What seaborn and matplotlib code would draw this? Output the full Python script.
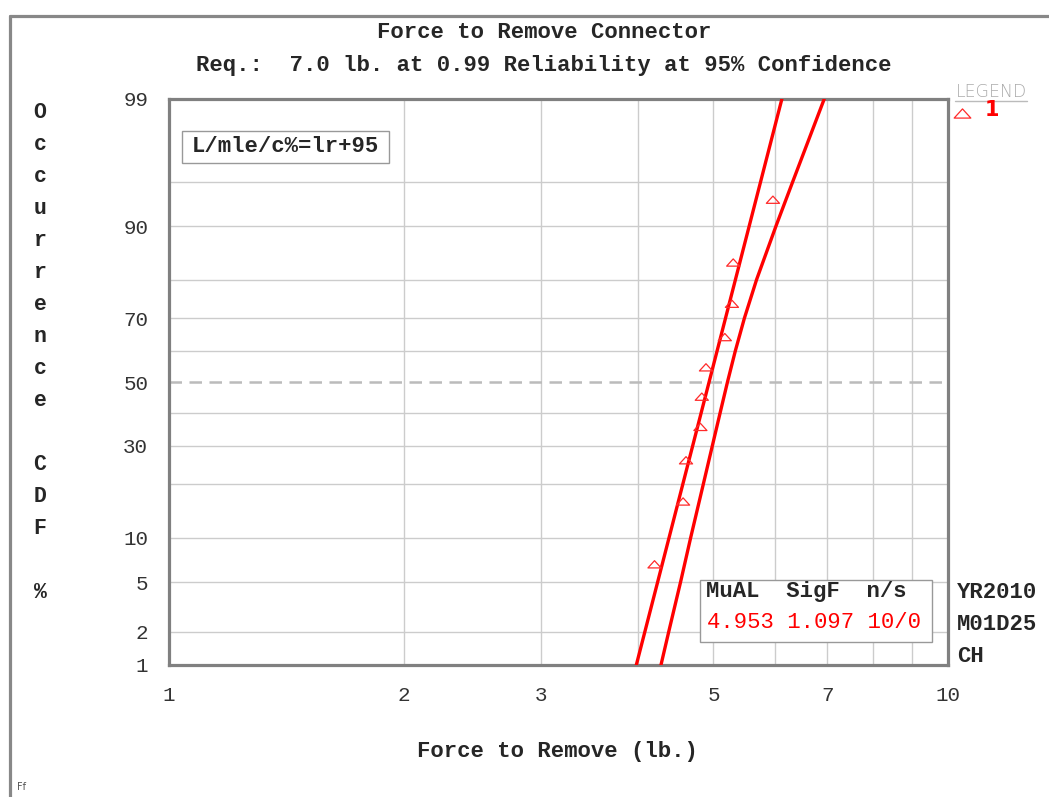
import numpy as np
import pandas as pd
import matplotlib
matplotlib.use('Agg')
import matplotlib.pyplot as plt
from matplotlib.lines import Line2D
from matplotlib.patches import Rectangle
from matplotlib.path import Path
from matplotlib.markers import MarkerStyle
import seaborn as sns
from statistics import NormalDist

# data
force = [4.20, 4.57, 4.61, 4.81, 4.83, 4.89, 5.17, 5.28, 5.30, 5.96]
rank_pct = [6.7, 16.3, 26.0, 35.6, 45.2, 54.8, 64.4, 74.0, 83.7, 93.3]
fit_pct = [1, 99]
fit_force = [3.98, 6.12]
bound_pct = [1, 2, 5, 10, 20, 30, 40, 50, 60, 70, 80, 90, 95, 99]
bound_force = [4.281, 4.380, 4.536, 4.673, 4.851, 4.983, 5.099, 5.211,
               5.332, 5.478, 5.679, 6.014, 6.318, 6.936]

x_ticks = [1, 2, 3, 4, 5, 6, 7, 8, 9, 10]
x_labels = ['1', '2', '3', '', '5', '', '7', '', '', '10']
y_ticks = [1, 2, 5, 10, 20, 30, 40, 50, 60, 70, 80, 90, 95, 99]
y_labels = ['1', '2', '5', '10', '', '30', '', '50', '', '70', '', '90', '', '99']

W, H = 1049, 797
sns.set_style('white')
plt.rcParams['font.family'] = ['Liberation Mono', 'DejaVu Sans Mono']
mono = 'Liberation Mono'


def px(x, y):
    return x / W, 1 - y / H


# normal probability scale for the CDF axis
nd = NormalDist()
_ppf = np.vectorize(nd.inv_cdf, otypes=[float])
_cdf = np.vectorize(nd.cdf, otypes=[float])


def fwd(p):
    p = np.asarray(p, float) / 100.0
    bad = ~np.isfinite(p)
    p = np.clip(np.where(bad, 0.5, p), 1e-9, 1 - 1e-9)
    z = _ppf(p)
    return np.where(bad, np.nan, z)


def inv(z):
    z = np.asarray(z, float)
    bad = ~np.isfinite(z)
    out = _cdf(np.where(bad, 0.0, z)) * 100
    return np.where(bad, np.nan, out)


fig = plt.figure(figsize=(W / 100, H / 100), dpi=100)
ax = fig.add_axes([169 / W, (797 - 665) / H, 779 / W, 566 / H])
ax.set_xscale('log')
ax.set_yscale('function', functions=(fwd, inv))

pts = pd.DataFrame({'force': force, 'pct': rank_pct})
fit = pd.DataFrame({'force': fit_force, 'pct': fit_pct})
bnd = pd.DataFrame({'force': bound_force, 'pct': bound_pct})

tri = MarkerStyle(Path([(-1, -0.55), (1, -0.55), (0, 0.55), (-1, -0.55)], closed=True))

sns.lineplot(data=fit, x='force', y='pct', sort=False, color='#ff0000', lw=2.4, ax=ax, zorder=4)
sns.lineplot(data=bnd, x='force', y='pct', sort=False, color='#ff0000', lw=2.4, ax=ax, zorder=4)
sns.scatterplot(data=pts, x='force', y='pct', marker=tri, s=90, color='#ff2a2a',
                edgecolor='#ff2a2a', linewidth=0.9, ax=ax, zorder=5)
ax.collections[-1].set_facecolor('none')

ax.set_xlim(1, 10)
ax.set_ylim(1, 99)
ax.xaxis.set_major_locator(matplotlib.ticker.FixedLocator(x_ticks))
ax.xaxis.set_minor_locator(matplotlib.ticker.NullLocator())
ax.set_xticklabels(x_labels)
ax.yaxis.set_major_locator(matplotlib.ticker.FixedLocator(y_ticks))
ax.yaxis.set_minor_locator(matplotlib.ticker.NullLocator())
ax.set_yticklabels(y_labels)
ax.tick_params(axis='both', which='major', length=7, width=1, color='#cccccc',
               labelsize=15, labelcolor='#333333', pad=8)
ax.set_xlabel('')
ax.set_ylabel('')

ax.grid(True, color='#cccccc', lw=1.0)
for gl, v in zip(ax.get_ygridlines(), y_ticks):
    if v == 50:
        gl.set_color('#bbbbbb')
        gl.set_linestyle((0, (5, 3)))
        gl.set_linewidth(1.8)
for sp in ax.spines.values():
    sp.set_visible(True)
    sp.set_color('#808080')
    sp.set_linewidth(2.3)

# titles and axis label
fig.text(*px(544, 33), 'Force to Remove Connector', ha='center', va='center',
         fontsize=16, fontweight='bold', family=mono)
fig.text(*px(544, 65), 'Req.:  7.0 lb. at 0.99 Reliability at 95% Confidence',
         ha='center', va='center', fontsize=16, fontweight='bold', family=mono)
fig.text(*px(557, 751), 'Force to Remove (lb.)', ha='center', va='center',
         fontsize=16, fontweight='bold', family=mono)

for i, ch in enumerate('Occurrence CDF %'):
    if ch != ' ':
        fig.text(*px(40, 113 + 32 * i), ch, ha='center', va='center',
                 fontsize=15.5, fontweight='bold', family=mono)

# method box
fig.add_artist(Rectangle(px(182, 163), 207 / W, 32 / H, transform=fig.transFigure,
                         fc='white', ec='#999999', lw=1, zorder=6))
fig.text(*px(285, 147), 'L/mle/c%=lr+95', ha='center', va='center',
         fontsize=16, fontweight='bold', family=mono, zorder=7)

# parameter box
fig.add_artist(Rectangle(px(700, 642), 232 / W, 62 / H, transform=fig.transFigure,
                         fc='white', ec='#999999', lw=1, zorder=6))
fig.text(*px(706, 592), 'MuAL  SigF  n/s', ha='left', va='center',
         fontsize=16, fontweight='bold', family=mono, zorder=7)
fig.text(*px(707, 623), '4.953 1.097 10/0', ha='left', va='center',
         fontsize=16, color='#ff0000', family=mono, zorder=7)

for j, s in enumerate(['YR2010', 'M01D25', 'CH']):
    fig.text(*px(957, 592 + 32 * j), s, ha='left', va='center',
             fontsize=16, fontweight='bold', family=mono)

# legend
fig.text(*px(991, 92), 'LEGEND', ha='center', va='center', fontsize=12.5,
         color='#aaaaaa', family='DejaVu Sans', fontweight='light')
fig.add_artist(Line2D([955 / W, 1027 / W], [1 - 101 / H, 1 - 101 / H],
                      transform=fig.transFigure, color='#bbbbbb', lw=1))
fig.add_artist(Line2D([962 / W], [1 - 113 / H], transform=fig.transFigure,
                      marker=tri, markersize=12, mfc='none', mec='#ff2a2a', mew=0.9, ls='none'))
fig.text(*px(992, 110), '1', ha='center', va='center', fontsize=15,
         color='#ff0000', family='DejaVu Sans', fontweight='bold')

fig.text(*px(21, 787), 'Ff', ha='center', va='center', fontsize=7,
         color='#555555', family='DejaVu Sans')

# page border
fig.add_artist(Line2D([10 / W, 10 / W], [1 - 16 / H, 0], transform=fig.transFigure,
                      color='#888888', lw=2.3))
fig.add_artist(Line2D([10 / W, 1], [1 - 16 / H, 1 - 16 / H], transform=fig.transFigure,
                      color='#888888', lw=2.3))

fig.savefig('out.png', dpi=100)
print("Saved out.png")
